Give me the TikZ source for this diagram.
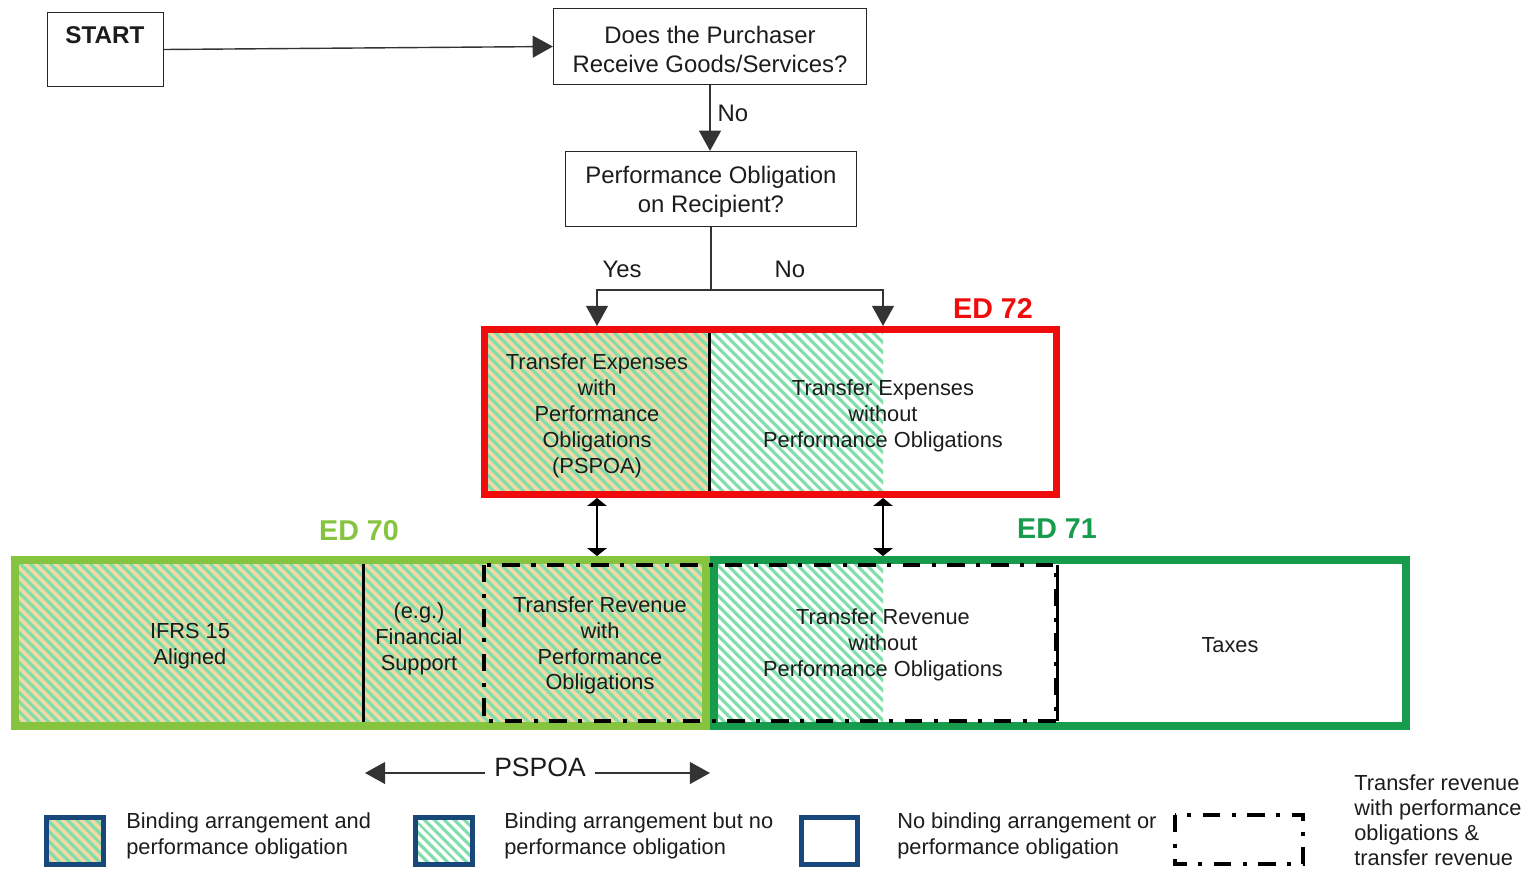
\documentclass[tikz,border=0pt]{standalone}
\usepackage{fontspec}
\setmainfont{Liberation Sans}
\usetikzlibrary{arrows.meta,patterns.meta,fit}
\definecolor{tanbg}{RGB}{243,216,166}
\definecolor{stripe}{RGB}{128,222,170}
\definecolor{edred}{RGB}{240,12,12}
\definecolor{edlight}{RGB}{134,196,64}
\definecolor{eddark}{RGB}{22,156,76}
\definecolor{legblue}{RGB}{24,72,122}
\definecolor{txt}{RGB}{28,28,28}
\begin{document}
\begin{tikzpicture}[x=0.02cm,y=-0.02cm,
  font=\fontsize{12.4}{14.7}\selectfont, text=txt,
  hatchtan/.style={preaction={fill=tanbg}, pattern={Lines[angle=-45,distance=4pt,line width=1.9pt]}, pattern color=stripe},
  hatchwhite/.style={pattern={Lines[angle=-45,distance=4pt,line width=1.9pt]}, pattern color=stripe},
  topbox/.style={draw=black!85, line width=0.7pt, inner sep=0pt},
  toptext/.style={align=center, inner sep=0pt, font=\fontsize{13.6}{16.4}\selectfont},
  bigarr/.style={draw=black!80, line width=0.8pt, -{Triangle[length=11.5pt,width=12.5pt]}},
  dblarr/.style={draw=black, line width=0.8pt, {Triangle[length=4.5pt,width=11pt]}-{Triangle[length=4.5pt,width=11pt]}},
  plainline/.style={draw=black!80, line width=0.8pt},
  cell/.style={align=center, inner sep=0pt},
  edlabel/.style={font=\fontsize{16.3}{18}\selectfont\bfseries},
  divider/.style={draw=black, line width=1.7pt},
  dashdot/.style={draw=black, line width=2.3pt, dash pattern=on 10pt off 6.5pt on 2.3pt off 6.5pt},
  legbox/.style={draw=legblue, line width=2.8pt, inner sep=0pt},
  legtext/.style={align=left, anchor=west, inner sep=0pt}
]
\useasboundingbox (0,0) rectangle (1533,872);

% ---------- top flow ----------
\node[topbox, fit={(47.5,12.5) (163.5,86.5)}] (start) {};
\node[font=\fontsize{13.8}{16}\selectfont\bfseries, inner sep=0pt] (startlbl) at (105,35) {START};
\node[topbox, fit={(553.5,8.5) (866.5,84.5)}] (q1) {};
\node[toptext] (q1t) at ([yshift=-0.06cm]q1.center) {Does the Purchaser\\Receive Goods/Services?};
\node[topbox, fit={(565.5,151.5) (856.5,226.5)}] (q2) {};
\node[toptext] (q2t) at ([yshift=-0.06cm]q2.center) {Performance Obligation\\on Recipient?};

\draw[bigarr] (start.east) -- (q1.west);
\draw[bigarr] (q1.south) -- (q1.south |- q2.north);
\node[font=\fontsize{13.6}{16}\selectfont, inner sep=0pt] (nolbl1) at (733,113) {No};

\coordinate (split) at (710,290);

% ---------- ED 72 ----------
\fill[hatchtan] (484.5,329.5) rectangle (709,494.5);
\fill[hatchwhite] (709,329.5) rectangle (883,494.5);
\draw[divider] (709,332) -- (709,492);
\node[draw=edred, line width=4pt, inner sep=0pt, fit={(484.5,329.5) (1056.5,494.5)}] (red) {};
\node[cell] (tew) at (597,416) {Transfer Expenses\\with\\Performance\\Obligations\\(PSPOA)};
\node[cell] (tewo) at (883,416) {Transfer Expenses\\without\\Performance Obligations};
\node[edlabel, text=edred, inner sep=0pt] (ed72) at (993,308) {ED 72};

\draw[plainline] (q2.south) -- (q2.south |- split);
\draw[bigarr] (q2.south |- split) -| (tew |- red.north);
\draw[bigarr] (q2.south |- split) -| (tewo |- red.north);
\node[font=\fontsize{13.6}{16}\selectfont, inner sep=0pt] (yeslbl) at (622,269) {Yes};
\node[font=\fontsize{13.6}{16}\selectfont, inner sep=0pt] (nolbl2) at (790,269) {No};

% ---------- ED 70 / ED 71 ----------
\fill[hatchtan] (15,560) rectangle (710,726);
\fill[hatchwhite] (710,560) rectangle (883,726);
\draw[divider] (363,564) -- (363,722);
\draw[divider] (1057,565) -- (1057,721);
\node[draw=edlight, line width=4.5pt, inner sep=0pt, fit={(15,560) (706,726)}] (ed70box) {};
\node[draw=eddark, line width=4.5pt, inner sep=0pt, fit={(714,560) (1406,726)}] (ed71box) {};
\node[draw=none, inner sep=0pt, fit={(484,565) (1056,721)}] (ddbox) {};
\draw[dashdot] (ddbox.north west) rectangle (ddbox.south east);

\node[edlabel, text=edlight, inner sep=0pt] (ed70) at (359,531) {ED 70};
\node[edlabel, text=eddark, inner sep=0pt] (ed71) at (1057,529) {ED 71};

\node[cell] (ifrs) at (190,646) {IFRS 15\\Aligned};
\node[cell] (fin) at (419,639) {(e.g.)\\Financial\\Support};
\node[cell] (trw) at (600,645.5) {Transfer Revenue\\with\\Performance\\Obligations};
\node[cell] (trwo) at (883,645) {Transfer Revenue\\without\\Performance Obligations};
\node[cell] (taxes) at (1230,645) {Taxes};

\draw[dblarr] (tew |- red.south) -- (tew |- ed70box.north);
\draw[dblarr] (tewo |- red.south) -- (tewo |- ed71box.north);

% ---------- PSPOA ----------
\node[font=\fontsize{15.1}{17}\selectfont, inner sep=5pt] (pspoa) at (540,767) {PSPOA};
\coordinate (pl) at (365,773);
\coordinate (pr) at (710,773);
\draw[bigarr] (pspoa.west |- pl) -- (pl);
\draw[bigarr] (pspoa.east |- pr) -- (pr);

% ---------- legend ----------
\fill[hatchtan] (46.5,817.5) rectangle (103.5,864.5);
\node[legbox, fit={(46.5,817.5) (103.5,864.5)}] (leg1) {};
\node[legtext] (leg1t) at (126,836) {Binding arrangement and\\performance obligation};

\fill[hatchwhite] (415.5,817.5) rectangle (472.5,864.5);
\node[legbox, fit={(415.5,817.5) (472.5,864.5)}] (leg2) {};
\node[legtext] (leg2t) at (504,836) {Binding arrangement but no\\performance obligation};

\node[legbox, fit={(801.5,817.5) (857.5,864.5)}] (leg3) {};
\node[legtext] (leg3t) at (897,836) {No binding arrangement or\\performance obligation};

\node[draw=none, inner sep=0pt, fit={(1175,815) (1303,864)}] (leg4) {};
\draw[dashdot] (leg4.north west) rectangle (leg4.south east);
\node[legtext, font=\fontsize{12.4}{14.3}\selectfont] (leg4t) at (1354,820) {Transfer revenue\\with performance\\obligations \&\\transfer revenue};
\end{tikzpicture}
\end{document}
